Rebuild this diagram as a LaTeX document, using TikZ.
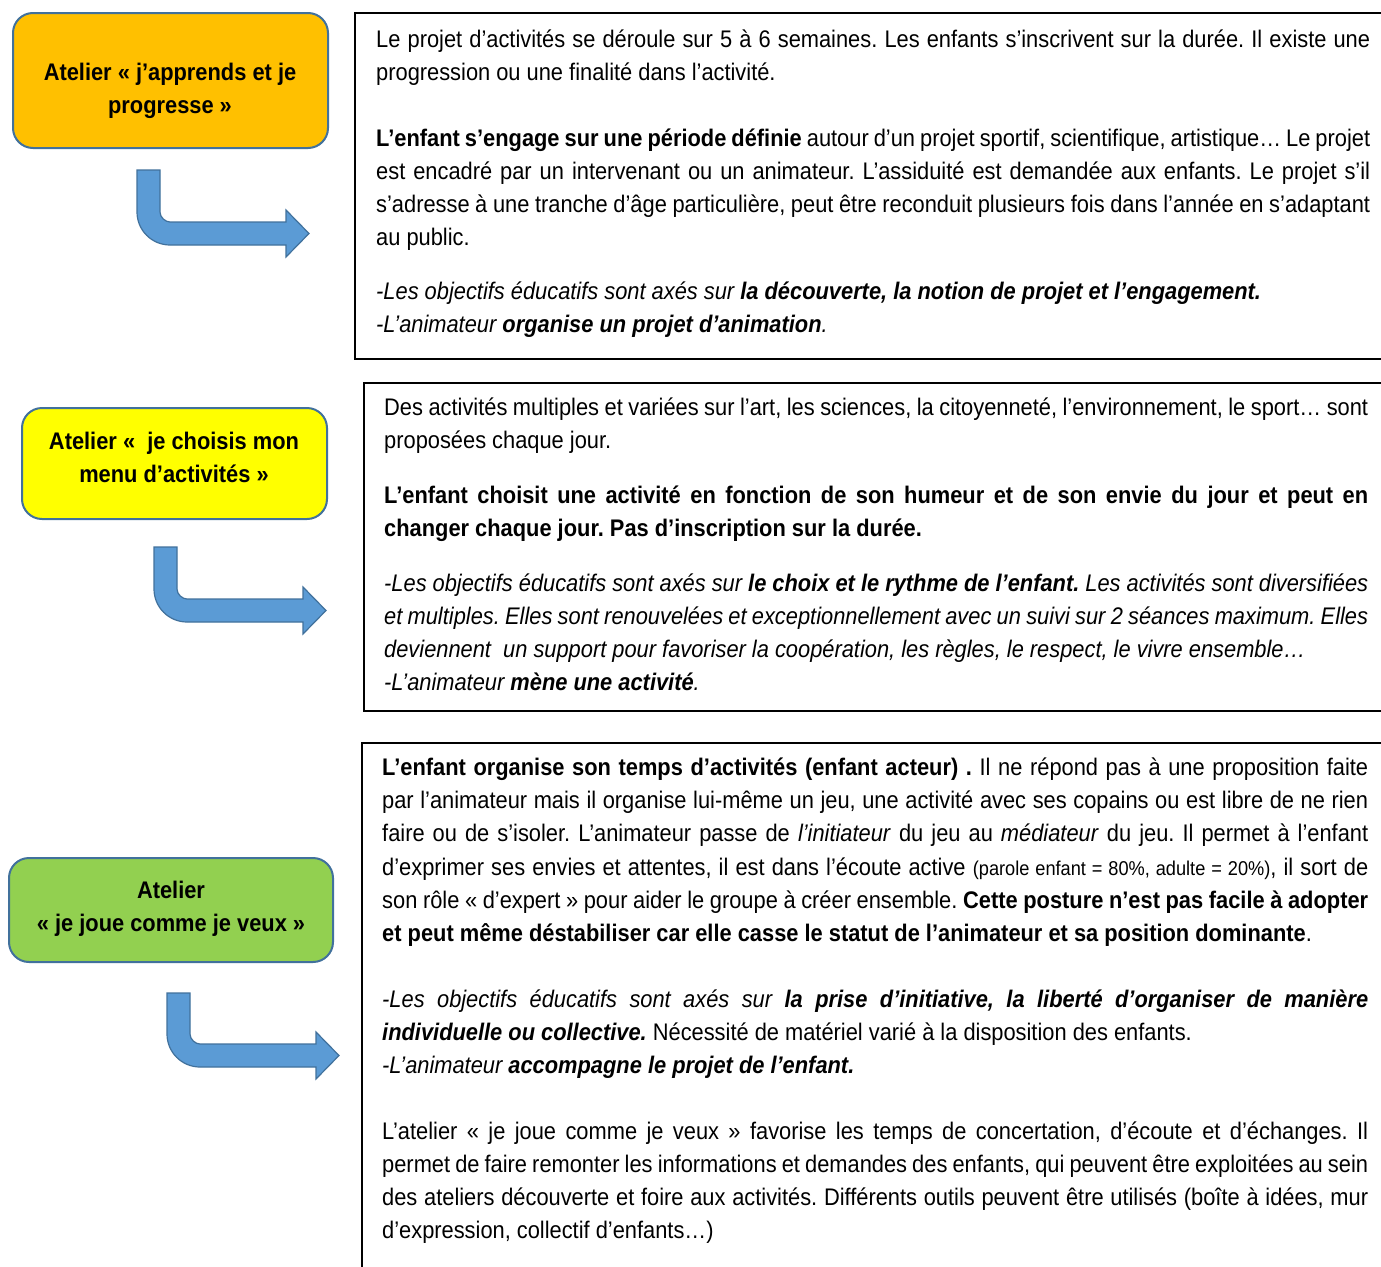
\documentclass[tikz,border=0pt]{standalone}
\usepackage{fontspec}
\setmainfont{Liberation Sans}[FakeStretch=0.91]
\frenchspacing
\definecolor{bordblue}{HTML}{41719C}
\definecolor{arrowblue}{HTML}{5B9BD5}
\definecolor{orangefill}{HTML}{FFC000}
\definecolor{yellowfill}{HTML}{FFFF00}
\definecolor{greenfill}{HTML}{92D050}
\newcommand\jA[1]{\makebox[994pt][s]{#1}}
\newcommand\jB[1]{\makebox[984pt][s]{#1}}
\newcommand\jC[1]{\makebox[986pt][s]{#1}}
\newcommand\bentarrow[4]{%
  \draw[barrow] (#1,#2) -- (#1+23,#2) -- (#1+23,#3-10)
    .. controls (#1+23,#3-4.5) and (#1+28.5,#3) .. (#1+33,#3)
    -- (#4,#3) -- (#4,#3-12) -- (#4+23,#3+11.5) -- (#4,#3+35) -- (#4,#3+23)
    -- (#1+33,#3+23) .. controls (#1+14.8,#3+23) and (#1,#3+8.2) .. (#1,#3-10) -- cycle;}
\tikzset{
  lblbox/.style={rounded corners=20pt, draw=bordblue, line width=2pt},
  txtbox/.style={draw=black, line width=2pt},
  barrow/.style={fill=arrowblue, draw=bordblue, line width=1.2pt},
  ln/.style={anchor=base west, inner sep=0pt, font=\fontsize{24}{33}\selectfont},
  lab/.style={align=center, inner sep=0pt, font=\fontsize{24}{33}\selectfont\bfseries},
}
\begin{document}
\begin{tikzpicture}[x=1pt,y=-1pt]
\useasboundingbox[fill=white] (0,0) rectangle (1381,1266);

% ---------- left labels ----------
\draw[lblbox, fill=orangefill] (13,13) rectangle (328,148);
\node[lab] (labA) at (170,91) {Atelier « j’apprends et je\\progresse »};
\draw[lblbox, fill=yellowfill] (22,408) rectangle (327,519);
\node[lab] (labB) at (174,457) {Atelier « ~je choisis mon\\menu d’activités »};
\draw[lblbox, fill=greenfill] (9,858) rectangle (333,962);
\node[lab] (labC) at (171,909) {Atelier\\« je joue comme je veux »};

% ---------- bent arrows ----------
\bentarrow{137}{170}{222}{286}
\bentarrow{154}{547}{599}{303}
\bentarrow{167}{993}{1044}{316}

% ---------- text boxes ----------
\draw[txtbox] (1400,13) -- (355,13) -- (355,359) -- (1400,359);
\draw[txtbox] (1400,383) -- (364,383) -- (364,711) -- (1400,711);
\draw[txtbox] (1400,743) -- (362,743) -- (362,1290);

% box 1
\node[ln] (a1) at (376,47) {\jA{Le projet d’activités se déroule sur 5 à 6 semaines. Les enfants s’inscrivent sur la durée. Il existe une}};
\node[ln] (a2) at (376,80) {progression ou une finalité dans l’activité.};
\node[ln] (a3) at (376,146) {\jA{\textbf{L’enfant s’engage sur une période définie} autour d’un projet sportif, scientifique, artistique… Le projet}};
\node[ln] (a4) at (376,179) {\jA{est encadré par un intervenant ou un animateur. L’assiduité est demandée aux enfants. Le projet s’il}};
\node[ln] (a5) at (376,212) {\jA{s’adresse à une tranche d’âge particulière, peut être reconduit plusieurs fois dans l’année en s’adaptant}};
\node[ln] (a6) at (376,245) {au public.};
\node[ln] (a7) at (376,299) {\itshape -Les objectifs éducatifs sont axés sur \textbf{la découverte, la notion de projet et l’engagement.}};
\node[ln] (a8) at (376,332) {\itshape -L’animateur \textbf{organise un projet d’animation}.};

% box 2
\node[ln] (b1) at (384,415) {\jB{Des activités multiples et variées sur l’art, les sciences, la citoyenneté, l’environnement, le sport… sont}};
\node[ln] (b2) at (384,448) {proposées chaque jour.};
\node[ln] (b3) at (384,503) {\bfseries\jB{L’enfant choisit une activité en fonction de son humeur et de son envie du jour et peut en}};
\node[ln] (b4) at (384,536) {\bfseries changer chaque jour. Pas d’inscription sur la durée.};
\node[ln] (b5) at (384,591) {\itshape\jB{-Les objectifs éducatifs sont axés sur \textbf{le choix et le rythme de l’enfant.} Les activités sont diversifiées}};
\node[ln] (b6) at (384,624) {\itshape\jB{et multiples. Elles sont renouvelées et exceptionnellement avec un suivi sur 2 séances maximum. Elles}};
\node[ln] (b7) at (384,657) {\itshape deviennent ~un support pour favoriser la coopération, les règles, le respect, le vivre ensemble…};
\node[ln] (b8) at (384,690) {\itshape -L’animateur \textbf{mène une activité}.};

% box 3
\node[ln] (c1) at (382,775) {\jC{\textbf{L’enfant organise son temps d’activités (enfant acteur) .} Il ne répond pas à une proposition faite}};
\node[ln] (c2) at (382,808) {\jC{par l’animateur mais il organise lui-même un jeu, une activité avec ses copains ou est libre de ne rien}};
\node[ln] (c3) at (382,841) {\jC{faire ou de s’isoler. L’animateur passe de \textit{l’initiateur} du jeu au \textit{médiateur} du jeu. Il permet à l’enfant}};
\node[ln] (c4) at (382,875) {\jC{d’exprimer ses envies et attentes, il est dans l’écoute active {\fontsize{20}{24}\selectfont(parole enfant = 80\%, adulte = 20\%)}, il sort de}};
\node[ln] (c5) at (382,908) {\jC{son rôle « d’expert » pour aider le groupe à créer ensemble. \textbf{Cette posture n’est pas facile à adopter}}};
\node[ln] (c6) at (382,941) {\textbf{et peut même déstabiliser car elle casse le statut de l’animateur et sa position dominante}.};
\node[ln] (c7) at (382,1007) {\itshape\jC{-Les objectifs éducatifs sont axés sur \textbf{la prise d’initiative, la liberté d’organiser de manière}}};
\node[ln] (c8) at (382,1040) {\textbf{\textit{individuelle ou collective.}} Nécessité de matériel varié à la disposition des enfants.};
\node[ln] (c9) at (382,1073) {\itshape -L’animateur \textbf{accompagne le projet de l’enfant.}};
\node[ln] (c10) at (382,1139) {\jC{L’atelier « je joue comme je veux » favorise les temps de concertation, d’écoute et d’échanges. Il}};
\node[ln] (c11) at (382,1172) {\jC{permet de faire remonter les informations et demandes des enfants, qui peuvent être exploitées au sein}};
\node[ln] (c12) at (382,1205) {\jC{des ateliers découverte et foire aux activités. Différents outils peuvent être utilisés (boîte à idées, mur}};
\node[ln] (c13) at (382,1238) {d’expression, collectif d’enfants…)};
\end{tikzpicture}
\end{document}
